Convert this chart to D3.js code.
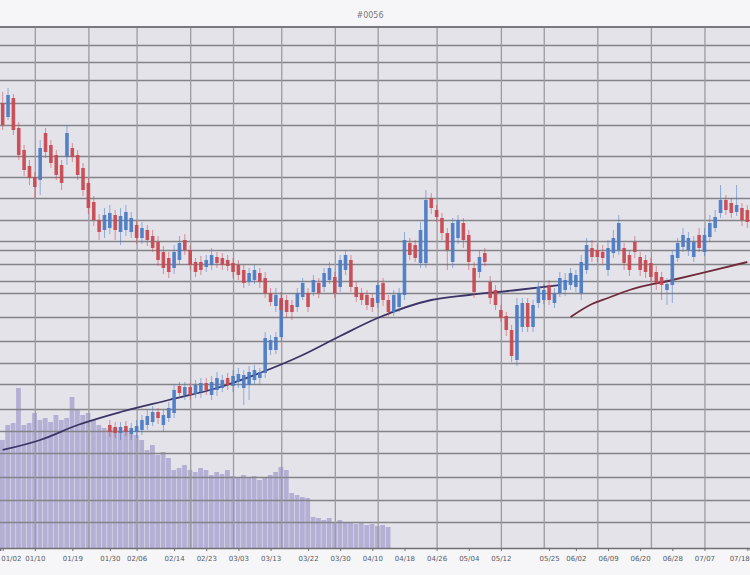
<!DOCTYPE html>
<html>
<head>
<meta charset="utf-8">
<script src="https://cdn.jsdelivr.net/npm/d3@7"></script>
<style>
  body { margin: 0; background: #f6f6f8; }
  svg { display: block; }
  text { font-family: "DejaVu Sans", sans-serif; }
</style>
</head>
<body>
<div id="chart"></div>
<script>
// chart values (price units, day = trading day index)
const title = "#0056";

const opens = [497,483,502,472,450,434,423,420,467,455,445,435,443,452,445,432,417,398,380,370,
  372,385,368,370,368,375,362,370,364,358,348,342,332,340,360,350,338,338,333,335,
  343,342,340,337,335,330,318,320,327,322,307,294,302,300,295,293,303,307,308,317,
  313,320,323,313,330,340,313,307,305,302,297,317,300,288,293,305,357,355,337,337,
  402,390,382,367,338,362,377,365,332,328,347,318,310,290,284,270,240,273,297,273,
  297,300,315,297,307,310,315,313,307,330,352,350,348,330,347,350,352,345,358,343,
  340,337,328,323,310,315,342,353,350,343,365,348,363,372,387,400,397,388,392,390];
const closes = [475,505,470,445,430,422,413,452,448,437,425,417,467,443,425,410,392,380,368,385,
  387,370,384,388,382,362,372,360,352,340,332,328,348,357,350,335,328,330,340,345,
  337,335,334,328,325,317,327,330,318,307,298,305,290,288,288,307,317,293,320,307,
  327,332,307,340,345,313,303,300,295,293,315,300,288,305,307,360,345,342,370,400,
  392,383,367,350,377,380,360,338,308,343,338,302,295,282,270,244,295,297,273,295,
  313,310,300,307,322,320,327,325,338,355,343,343,342,352,362,377,337,330,348,330,
  328,323,317,315,316,345,357,365,362,358,352,365,377,383,400,390,387,395,380,378];
const highs = [508,512,506,478,455,440,428,460,472,460,450,440,475,457,450,437,422,404,386,392,
  395,390,392,395,388,380,378,375,370,364,354,348,355,364,366,355,342,344,345,352,
  348,347,345,342,340,335,332,335,332,328,312,312,308,305,300,312,322,312,325,322,
  332,338,328,345,350,345,318,312,310,307,320,322,305,310,312,368,362,360,378,410,
  407,395,387,372,382,385,382,370,338,350,352,324,315,295,288,275,302,302,302,300,
  318,316,320,312,328,327,332,330,345,362,360,356,355,360,370,385,357,350,364,348,
  345,342,334,328,322,350,362,372,368,364,372,372,385,390,415,405,402,415,397,395];
const lows = [470,480,465,440,424,415,402,405,442,432,420,410,435,438,420,404,386,374,360,362,
  366,360,355,364,362,356,356,354,348,334,326,322,326,336,345,330,323,325,328,330,
  332,330,329,322,320,312,314,316,312,302,294,288,282,282,280,288,300,288,304,302,
  308,316,302,308,325,308,298,295,290,288,292,294,284,284,288,300,340,338,332,332,
  386,378,360,330,332,356,352,330,302,322,334,296,290,278,264,238,234,268,268,268,
  292,296,295,292,303,304,310,308,300,326,338,338,336,324,342,345,330,324,342,324,
  322,318,310,300,295,297,338,348,344,338,348,344,358,368,382,385,382,384,374,372];

// second candle run, starting at day 20
const start2 = 20;
const opens2 = [175,173,167,174,166,168,170,175,178,188,175,182,187,214,205,213,206,208,217,205,
  210,212,222,214,218,212,215,220,222,227,250,250,263];
const closes2 = [168,167,173,168,172,174,180,184,188,182,185,192,210,207,213,205,215,217,210,218,
  222,220,215,224,226,225,228,230,228,262,260,263,300];
const highs2 = [180,178,178,179,177,180,185,190,194,192,190,198,215,218,218,217,220,222,222,224,
  228,225,227,230,232,230,234,235,232,268,265,268,308];
const lows2 = [163,162,160,164,160,162,165,170,174,176,168,178,182,202,200,200,202,202,205,200,
  204,208,210,208,212,195,200,216,215,222,245,246,258];

const volumes = [108,123,125,160,123,125,135,128,130,126,133,128,130,151,138,133,135,128,123,120,
  118,120,116,118,115,113,108,98,103,93,96,90,78,80,83,78,76,80,78,73,
  76,74,78,72,70,73,70,72,68,70,73,76,81,78,55,53,51,50,31,30,
  28,30,26,28,25,26,24,25,23,24,22,23,21];

// moving average, two pieces
const maDaysA = [0, 7, 14, 22, 31, 40, 48, 56, 63, 70, 80, 87, 96, 104];
const maA = [150, 160, 175, 188, 200, 212, 227, 245, 264, 282, 300, 305, 310, 315];
const maDaysB = [106, 110, 113, 117, 125, 132, 139];
const maB = [283, 296, 302, 310, 320, 329, 338];

const gridPrices = [555,538,520,497,475,444,423,402,380,359,350,336,319,307,283,259,237,216,191,169,147,123,100,78];
const gridDays = [6, 16, 25, 35, 43, 52, 62, 70, 81, 93, 101, 111, 121, 131];
const tickDays = [0, 6, 13, 20, 25, 32, 38, 44, 50, 57, 63, 69, 75, 81, 87, 93, 102, 107, 113, 119, 125, 131, 139];
const tickLabels = ["01/02","01/10","01/19","01/30","02/06","02/14","02/23","03/03","03/13","03/22",
  "03/30","04/10","04/18","04/26","05/04","05/12","05/25","06/02","06/09","06/20","06/28","07/07","07/18"];

// Create the chart
const width = 750;
const height = 575;
const plotTop = 27, plotBottom = 548;
const svg = d3.select("#chart")
  .append("svg")
  .attr("width", width)
  .attr("height", height);

svg.append("rect")
  .attr("width", width).attr("height", height)
  .attr("fill", "#f6f6f8");
svg.append("rect")
  .attr("x", 0).attr("y", plotTop)
  .attr("width", width).attr("height", plotBottom - plotTop)
  .attr("fill", "#e5e3ea");

// scales
const x = d3.scaleLinear().domain([-0.5, opens.length - 0.5]).range([0, width]);
const y = d3.scaleLinear().domain([52, 573]).range([plotBottom, plotTop]);
const yv = d3.scaleLinear().domain([0, 200]).range([plotBottom, plotBottom - 200]);
const step = x(1) - x(0);

// volume
svg.append("g")
  .selectAll("rect")
  .data(volumes)
  .join("rect")
  .attr("x", (d, i) => x(i) - step / 2)
  .attr("width", step - 0.6)
  .attr("y", d => yv(d))
  .attr("height", d => plotBottom - yv(d))
  .attr("fill", "#aea8d2")
  .attr("opacity", 0.9);

// grid
svg.append("g")
  .call(d3.axisLeft(y).tickValues(gridPrices).tickSize(-width).tickFormat(""))
  .call(g => g.select(".domain").remove())
  .call(g => g.selectAll("line").attr("stroke", "#838388").attr("stroke-width", 1.6));

svg.append("g")
  .attr("transform", `translate(0,${plotBottom})`)
  .call(d3.axisBottom(x).tickValues(gridDays).tickSize(-(plotBottom - plotTop)).tickFormat(""))
  .call(g => g.select(".domain").remove())
  .call(g => g.selectAll("line").attr("stroke", "#9b9ba0").attr("stroke-width", 1.3));

// frame line
svg.append("line")
  .attr("x1", 0).attr("x2", width).attr("y1", plotTop).attr("y2", plotTop)
  .attr("stroke", "#7a7a7e").attr("stroke-width", 2);

// bottom axis with labels
const xAxis = svg.append("g")
  .attr("transform", `translate(0,${plotBottom})`)
  .call(d3.axisBottom(x).tickValues(tickDays).tickSize(3)
    .tickFormat((d, i) => tickLabels[i]));
xAxis.select(".domain").attr("stroke", "#6f6f74").attr("stroke-width", 1.5);
xAxis.selectAll("line").attr("stroke", "#6f6f74");
xAxis.selectAll("text")
  .attr("fill", "#5a5a60")
  .attr("font-size", 7)
  .attr("dy", "1em")
  .attr("text-anchor", (d, i) => i === 0 ? "start" : i === tickDays.length - 1 ? "end" : "middle")
  .attr("dx", (d, i) => i === 0 ? -2 : i === tickDays.length - 1 ? 2 : 0);

// title
svg.append("text")
  .attr("x", 370)
  .attr("y", 18)
  .attr("text-anchor", "middle")
  .attr("font-size", 8)
  .attr("fill", "#77777c")
  .text(title);

// moving average
const line = d3.line().curve(d3.curveMonotoneX)
  .x(d => x(d[0]))
  .y(d => y(d[1]));
svg.append("path")
  .datum(d3.zip(maDaysA, maA))
  .attr("d", line)
  .attr("fill", "none")
  .attr("stroke", "#3b3566")
  .attr("stroke-width", 1.8);
svg.append("path")
  .datum(d3.zip(maDaysB, maB))
  .attr("d", line)
  .attr("fill", "none")
  .attr("stroke", "#6e2a3a")
  .attr("stroke-width", 1.8);

// candles
function drawCandles(o, c, h, l, offset) {
  const rows = o.map((d, i) => ({ day: i + offset, o: d, c: c[i], h: h[i], l: l[i] }));
  const g = svg.append("g");
  const color = d => d.c >= d.o ? "#4a7bc4" : "#c8464f";
  g.selectAll(".wick")
    .data(rows)
    .join("line")
    .attr("class", "wick")
    .attr("x1", d => x(d.day)).attr("x2", d => x(d.day))
    .attr("y1", d => y(d.h)).attr("y2", d => y(d.l))
    .attr("stroke", color)
    .attr("stroke-width", 1)
    .attr("opacity", 0.55);
  g.selectAll(".body")
    .data(rows)
    .join("rect")
    .attr("class", "body")
    .attr("x", d => x(d.day) - 1.8)
    .attr("width", 3.6)
    .attr("y", d => y(Math.max(d.o, d.c)))
    .attr("height", d => Math.max(1.5, Math.abs(y(d.o) - y(d.c))))
    .attr("fill", color)
    .attr("opacity", 0.92);
}
drawCandles(opens2, closes2, highs2, lows2, start2);
drawCandles(opens, closes, highs, lows, 0);
</script>
</body>
</html>
